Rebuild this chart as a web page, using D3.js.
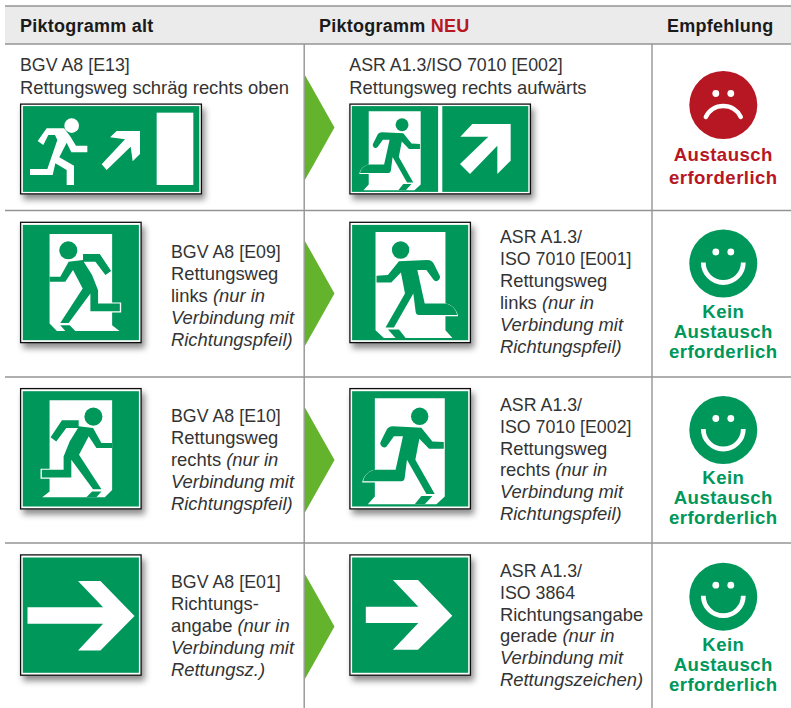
<!DOCTYPE html>
<html>
<head>
<meta charset="utf-8">
<script src="https://cdn.jsdelivr.net/npm/d3@7"></script>
<style>
  body { margin: 0; background: #fff; }
  svg { display: block; font-family: "Liberation Sans", Arial, sans-serif; }
</style>
</head>
<body>
<div id="chart"></div>
<script>
// table content, "|" switches to italic within a line
let rows = ["e13", "e09", "e10", "e01"];
let oldLabels = [
    ["BGV A8 [E13]", "Rettungsweg schräg rechts oben"],
    ["BGV A8 [E09]", "Rettungsweg", "links |(nur in", "|Verbindung mit", "|Richtungspfeil)"],
    ["BGV A8 [E10]", "Rettungsweg", "rechts |(nur in", "|Verbindung mit", "|Richtungspfeil)"],
    ["BGV A8 [E01]", "Richtungs-", "angabe |(nur in", "|Verbindung mit", "|Rettungsz.)"]
];
let newLabels = [
    ["ASR A1.3/ISO 7010 [E002]", "Rettungsweg rechts aufwärts"],
    ["ASR A1.3/", "ISO 7010 [E001]", "Rettungsweg", "links |(nur in", "|Verbindung mit", "|Richtungspfeil)"],
    ["ASR A1.3/", "ISO 7010 [E002]", "Rettungsweg", "rechts |(nur in", "|Verbindung mit", "|Richtungspfeil)"],
    ["ASR A1.3/", "ISO 3864", "Richtungsangabe", "gerade |(nur in", "|Verbindung mit", "|Rettungszeichen)"]
];
let verdicts = [
    ["Austausch", "erforderlich"],
    ["Kein", "Austausch", "erforderlich"],
    ["Kein", "Austausch", "erforderlich"],
    ["Kein", "Austausch", "erforderlich"]
];
let moods = ["sad", "happy", "happy", "happy"];
let oldSigns = ["oldWide", "oldLeft", "oldRight", "oldArrow"];
let newSigns = ["newWide", "newLeft", "newRight", "newArrow"];

let width = 791, height = 708;
let green = "#00975b", red = "#b71723", lime = "#64b32d", ink = "#333";

let rowLine = d3.scaleOrdinal(rows, [44, 210.5, 377, 543]);
let signTop = d3.scaleOrdinal(rows, [103.5, 221.7, 388, 554.3]);
let oldText = d3.scaleOrdinal(rows, [71, 258.3, 422.3, 588.3]);
let newText = d3.scaleOrdinal(rows, [71, 243.3, 410.7, 576.7]);
let tipY = d3.scaleOrdinal(rows, [127.5, 293.5, 460, 626.5]);
let faceY = d3.scaleOrdinal(rows, [105, 263.5, 430, 596.7]);
let verdictY = d3.scaleOrdinal(rows, [161, 317.7, 484, 650.7]);

let svg = d3.select("#chart")
    .append("svg")
    .attr("width", width)
    .attr("height", height);

let defs = svg.append("defs");
defs.append("filter")
    .attr("id", "shadow")
    .attr("x", "-10%").attr("y", "-10%")
    .attr("width", "125%").attr("height", "130%")
    .append("feDropShadow")
    .attr("dx", 3).attr("dy", 5)
    .attr("stdDeviation", 3)
    .attr("flood-color", "#000")
    .attr("flood-opacity", 0.45);

// header band
svg.append("rect")
    .attr("x", 5).attr("y", 6)
    .attr("width", width - 5).attr("height", 38)
    .attr("fill", "#ebebeb");

// grid lines
let lineColor = "#949494";
svg.append("line").attr("x1", 5).attr("x2", width).attr("y1", 6).attr("y2", 6)
    .attr("stroke", lineColor).attr("stroke-width", 1.4);
svg.selectAll(".rowline")
    .data(rows)
    .enter()
    .append("line")
    .attr("class", "rowline")
    .attr("x1", 5).attr("x2", width)
    .attr("y1", d => rowLine(d)).attr("y2", d => rowLine(d))
    .attr("stroke", lineColor).attr("stroke-width", 1.4);
svg.selectAll(".colline")
    .data([304.2, 652])
    .enter()
    .append("line")
    .attr("class", "colline")
    .attr("x1", d => d).attr("x2", d => d)
    .attr("y1", 44).attr("y2", height)
    .attr("stroke", lineColor).attr("stroke-width", 1.4);

// header text
let header = svg.append("g")
    .attr("font-weight", "bold")
    .attr("font-size", 18)
    .attr("letter-spacing", 0.25)
    .attr("fill", "#1a1a1a");
header.append("text").attr("x", 20).attr("y", 31.7).text("Piktogramm alt");
let newHead = header.append("text").attr("x", 319).attr("y", 31.7);
newHead.append("tspan").text("Piktogramm ");
newHead.append("tspan").attr("fill", red).text("NEU");
header.append("text").attr("x", 667).attr("y", 31.7).text("Empfehlung");

// label text with optional italic end part
function drawLabels(labels, firstX, x, topScale) {
    rows.forEach(function (row, i) {
        let leading = i === 0 ? 22.5 : 21.9;
        labels[i].forEach(function (line, j) {
            let parts = line.split("|");
            let text = svg.append("text")
                .attr("x", i === 0 ? firstX : x)
                .attr("y", topScale(row) + j * leading)
                // the code lines run narrower than the word lines in the original face
                .attr("font-size", /\d/.test(line) ? 17.8 : 18.4)
                .attr("fill", ink);
            text.append("tspan").text(parts[0]);
            if (parts.length > 1) {
                text.append("tspan").attr("font-style", "italic").text(parts[1]);
            }
        });
    });
}
drawLabels(oldLabels, 20, 171, oldText);
drawLabels(newLabels, 349.3, 500, newText);

// lime arrows between the columns
svg.selectAll(".tip")
    .data(rows)
    .enter()
    .append("path")
    .attr("class", "tip")
    .attr("fill", lime)
    .attr("d", d => `M304.9 ${tipY(d) - 52.5}L334.5 ${tipY(d)}L304.9 ${tipY(d) + 52.5}Z`);

// pictogram shapes, drawn in crop pixels of a 347 wide green square
let oldDoor = "M80 27H267V232H294V262H267V300L289 317H102L80 295Z";
let oldRunner = "M182 110L207 150L225 195V235H290V258H202V205L137 293H112L179 190L150 135L127 170H80V155H112L137 110L180 105V87H230L264 138L247 150L217 110Z";
let oldFoot = "M112 300H140L157 317H127Z";
let isoDoor = "M70 21H279V235C300 238 313 255 317 273H279V315L300 338H95L70 315Z";
let isoRunner = "M107 150L140 109L225 105C235 105 240 110 243 114L262 152C266 162 252 174 244 165L222 135L195 135L217 235H278C298 238 310 252 314 269H200C194 269 191 265 190 260L183 205L125 307H100L158 205L146 142L117 172H73V152Z";
let isoFoot = "M107 313H140L160 338H130Z";

function drawFigure(g, door, figure, foot, head, mirror) {
    let f = g.append("g");
    if (mirror) f.attr("transform", "translate(347,0) scale(-1,1)");
    f.append("path").attr("d", door).attr("fill", "#fff");
    f.append("path").attr("d", figure).attr("fill", green);
    f.append("path").attr("d", foot).attr("fill", green);
    f.append("circle").attr("cx", head[0]).attr("cy", head[1]).attr("r", head[2]).attr("fill", green);
}

function frame(x, y, w, h) {
    let g = svg.append("g").attr("transform", `translate(${x},${y})`);
    g.append("rect")
        .attr("x", 0.6).attr("y", 0.6)
        .attr("width", w - 1.2).attr("height", h - 1.2)
        .attr("fill", "#fff")
        .attr("stroke", "#111")
        .attr("stroke-width", 1.3)
        .attr("filter", "url(#shadow)");
    return g;
}

function panel(g, x, y, w, h) {
    g.append("rect")
        .attr("x", x).attr("y", y)
        .attr("width", w).attr("height", h)
        .attr("fill", green);
    let u = w / 347;
    return g.append("g").attr("transform", `translate(${x},${y}) scale(${u})`);
}

let signW = 121.7, signH = 121.5;

function squareSign(row, x, kind) {
    let g = frame(x, signTop(row), signW, signH);
    let p = panel(g, 2.8, 3.2, signW - 5.6, signH - 6.2);
    if (kind === "oldLeft") drawFigure(p, oldDoor, oldRunner, oldFoot, [136, 76, 27], false);
    if (kind === "oldRight") drawFigure(p, oldDoor, oldRunner, oldFoot, [136, 76, 27], true);
    if (kind === "newLeft") drawFigure(p, isoDoor, isoRunner, isoFoot, [145, 75, 26], false);
    if (kind === "newRight") drawFigure(p, isoDoor, isoRunner, isoFoot, [145, 75, 26], true);
    if (kind === "oldArrow") {
        p.append("path").attr("fill", "#fff")
            .attr("d", "M14 149H240L165 70H232L334 175L232 278H165L240 198H14Z");
    }
    if (kind === "newArrow") {
        p.append("path").attr("fill", "#fff")
            .attr("d", "M41 147H198L122 67H197L299.5 174L197 276H122L198 196H41Z");
    }
}

function drawWideOld(row) {
    let g = frame(20, signTop(row), 182, 91);
    panel(g, 2.9, 2.6, 176.4, 85.8);
    // figure and arrow come from a 3x crop of the page
    let c = g.append("g")
        .attr("transform", `translate(-20,${-signTop(row)}) scale(${1 / 3})`)
        .attr("fill", "#fff");
    c.append("circle").attr("cx", 215).attr("cy", 377).attr("r", 22);
    c.append("path").attr("d", "M113 423L140 385H192L210 408L228 437H262V457H214L200 428L178 472L222 497V555H200V510L166 490L158 525H90V507H142L172 420L165 405H145L130 435Z");
    c.append("path").attr("d", "M350 393H420V462L398 484L392 440L320 510L305 493L375 418L330 412Z");
    c.append("rect").attr("x", 470).attr("y", 338).attr("width", 110).attr("height", 217);
}

function drawWideNew(row) {
    let g = frame(349.3, signTop(row), 181.7, 91);
    let left = panel(g, 2.5, 2.6, 86.3, 85.8);
    drawFigure(left, isoDoor, isoRunner, isoFoot, [145, 75, 26], true);
    g.append("rect")
        .attr("x", 93).attr("y", 2.6)
        .attr("width", 86).attr("height", 85.8)
        .attr("fill", green);
    // arrow in 3x crop pixels
    g.append("path")
        .attr("transform", `translate(-49.3,${-signTop(row)}) scale(${1 / 3})`)
        .attr("fill", "#fff")
        .attr("d", "M517 372H632V482L592 522V437L510 522L480 492L565 410H481Z");
}

rows.forEach(function (row, i) {
    if (oldSigns[i] === "oldWide") drawWideOld(row);
    else squareSign(row, 20, oldSigns[i]);
    if (newSigns[i] === "newWide") drawWideNew(row);
    else squareSign(row, 349.3, newSigns[i]);
});

// smileys and verdict text
let faceX = 723.3;
rows.forEach(function (row, i) {
    let sad = moods[i] === "sad";
    let color = sad ? red : green;
    let face = svg.append("g").attr("transform", `translate(${faceX},${faceY(row)})`);
    face.append("circle").attr("r", 34).attr("fill", color);
    face.selectAll(".eye")
        .data([-7.5, 7.5])
        .enter()
        .append("circle")
        .attr("cx", d => d).attr("cy", -11.5)
        .attr("r", 3.4)
        .attr("fill", "#fff");
    face.append("path")
        .attr("d", sad ? "M-17.5 12A19.4 19.4 0 0 1 17.5 12" : "M-20 -1A20 20 0 0 0 20 -1")
        .attr("fill", "none")
        .attr("stroke", "#fff")
        .attr("stroke-width", sad ? 4.4 : 4.8)
        .attr("stroke-linecap", sad ? "round" : "butt");

    let leading = i === 0 ? 22.7 : 20;
    svg.append("g")
        .attr("font-weight", "bold")
        .attr("font-size", 18.6)
        .attr("letter-spacing", 0.45)
        .attr("text-anchor", "middle")
        .attr("fill", color)
        .selectAll("text")
        .data(verdicts[i])
        .enter()
        .append("text")
        .attr("x", faceX)
        .attr("y", (d, j) => verdictY(row) + j * leading)
        .text(d => d);
});
</script>
</body>
</html>
